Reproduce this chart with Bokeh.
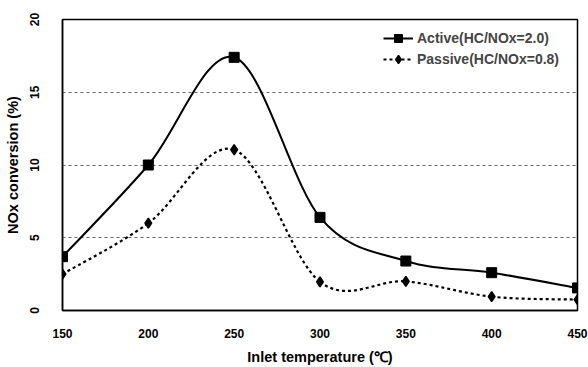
import numpy as np
from bokeh.plotting import figure
from bokeh.models import Legend, LegendItem, FixedTicker, ColumnDataSource
from bokeh.embed import file_html
from bokeh.resources import INLINE

temps = [150, 200, 250, 300, 350, 400, 450]
active = [3.7, 10.0, 17.4, 6.4, 3.4, 2.6, 1.55]
passive = [2.5, 6.0, 11.05, 1.97, 2.0, 0.95, 0.75]
y_ticks = [0, 5, 10, 15, 20]

FONT = "Liberation Sans"


def smooth_segments(xs, ys):
    x = np.asarray(xs, float)
    y = np.asarray(ys, float)
    n = len(x)
    xp = np.concatenate([[x[0]], x, [x[-1]]])
    yp = np.concatenate([[y[0]], y, [y[-1]]])
    d = {"x0": [], "y0": [], "x1": [], "y1": [], "cx0": [], "cy0": [], "cx1": [], "cy1": []}
    for i in range(n - 1):
        j = i + 1
        d["x0"].append(x[i]); d["y0"].append(y[i])
        d["x1"].append(x[i + 1]); d["y1"].append(y[i + 1])
        d["cx0"].append(x[i] + (xp[j + 1] - xp[j - 1]) / 6)
        d["cy0"].append(y[i] + (yp[j + 1] - yp[j - 1]) / 6)
        d["cx1"].append(x[i + 1] - (xp[j + 2] - xp[j]) / 6)
        d["cy1"].append(y[i + 1] - (yp[j + 2] - yp[j]) / 6)
    return ColumnDataSource(d)


p = figure(width=588, height=367, x_range=(150, 450), y_range=(0, 20),
           output_backend="svg", toolbar_location=None,
           min_border_left=62, min_border_right=11, min_border_top=19, min_border_bottom=53)

p.outline_line_color = "black"
p.outline_line_width = 1.5
p.background_fill_color = "white"
p.border_fill_color = "white"

p.xgrid.visible = False
p.ygrid.ticker = FixedTicker(ticks=[5, 10, 15])
p.ygrid.grid_line_color = "#666666"
p.ygrid.grid_line_dash = "3 3"
p.ygrid.grid_line_width = 1

p.xaxis.ticker = FixedTicker(ticks=temps)
p.yaxis.ticker = FixedTicker(ticks=y_ticks)
for ax in (p.xaxis[0], p.yaxis[0]):
    ax.major_tick_line_color = None
    ax.minor_tick_line_color = None
    ax.axis_line_color = "black"
    ax.axis_line_width = 1.5
    ax.major_label_text_font = FONT
    ax.major_label_text_font_style = "bold"
    ax.major_label_text_font_size = "12px"
    ax.major_label_text_color = "black"
    ax.axis_label_text_font = FONT
    ax.axis_label_text_font_style = "bold"
    ax.axis_label_text_font_size = "14.5px"
    ax.axis_label_text_color = "black"

p.yaxis.major_label_orientation = "parallel"
p.yaxis.major_label_standoff = 18
p.yaxis.axis_label = "NOx conversion (%)"
p.yaxis.axis_label_standoff = 6
p.xaxis.major_label_standoff = 12
p.xaxis.axis_label = "Inlet temperature (℃)"
p.xaxis.axis_label_standoff = 8

sa = smooth_segments(temps, active)
sp = smooth_segments(temps, passive)

ra = p.bezier(x0="x0", y0="y0", x1="x1", y1="y1", cx0="cx0", cy0="cy0", cx1="cx1", cy1="cy1",
              source=sa, line_color="black", line_width=2)
rp = p.bezier(x0="x0", y0="y0", x1="x1", y1="y1", cx0="cx0", cy0="cy0", cx1="cx1", cy1="cy1",
              source=sp, line_color="black", line_width=2.2, line_dash="3 3")
ma = p.scatter(temps, active, marker="square", size=10, color="black")
mp = p.scatter(temps, passive, marker="diamond", size=10, line_width=1.5, color="black")

legend = Legend(items=[
    LegendItem(label="Active(HC/NOx=2.0)", renderers=[ra, ma]),
    LegendItem(label="Passive(HC/NOx=0.8)", renderers=[rp, mp]),
], location=(321, 241))
legend.border_line_color = None
legend.background_fill_alpha = 0
legend.label_text_font = FONT
legend.label_text_font_style = "bold"
legend.label_text_font_size = "14px"
legend.glyph_width = 30
legend.glyph_height = 20
legend.label_height = 20
legend.spacing = 1
legend.label_standoff = 4
legend.padding = 0
legend.margin = 0
p.add_layout(legend)

open("out.html", "w").write(file_html(p, INLINE))
